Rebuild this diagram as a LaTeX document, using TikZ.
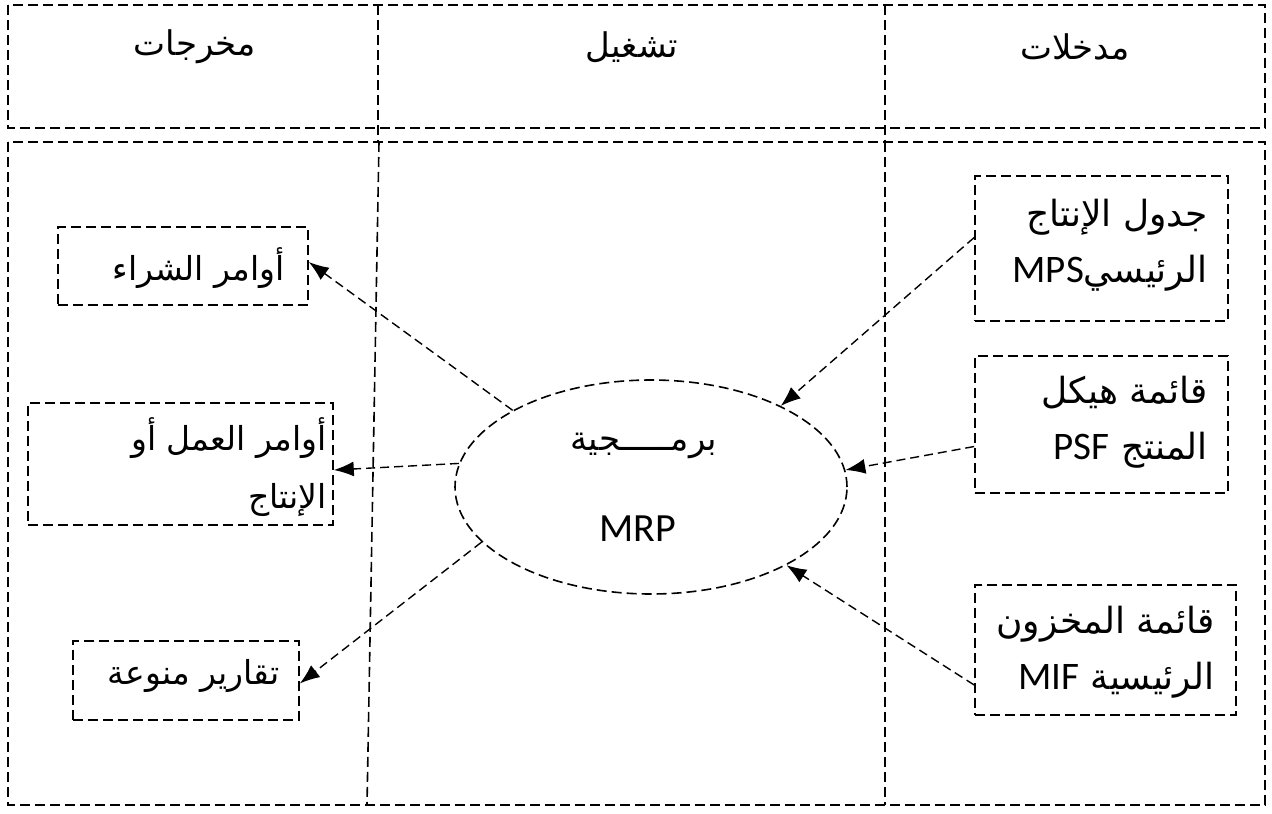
\documentclass[tikz,border=0pt]{standalone}
\usepackage{fontspec}
\usetikzlibrary{shapes.geometric,arrows.meta,calc}
\TeXXeTstate=1
\newfontfamily\ar[Script=Arabic]{DejaVu Sans}
\newfontfamily\lat{Carlito}
\tikzset{
  dsh/.style={line width=1.6pt, dash pattern=on 10pt off 5pt},
  boxnode/.style={dsh, draw, rectangle, inner sep=0pt},
  arr/.style={line width=1.4pt, dash pattern=on 9pt off 5pt,
              -{Latex[length=20pt,width=15pt]}},
  txt/.style={inner sep=0pt, align=right},
  head/.style={inner sep=0pt, font=\ar\fontsize{34}{40}\selectfont},
  boxtxt/.style={txt, font=\ar\fontsize{36}{56}\selectfont},
  sidetxt/.style={txt, font=\ar\fontsize{33}{58}\selectfont},
}
\newcommand\lt[1]{{\lat\fontsize{39}{56}\selectfont #1}}
\begin{document}
\begin{tikzpicture}[x=1pt,y=-1pt]
\useasboundingbox (0,0) rectangle (1272,814);

% lane frames
\draw[dsh] (8,5) rectangle (1265,128);
\draw[dsh] (378,5) -- (378,142);
\draw[dsh] (885,5) -- (885,142);
\draw[dsh] (8,142) rectangle (1265,805);
\draw[dsh] (379,142) -- (367,805);
\draw[dsh] (885,142) -- (885,805);

% lane headings
\node[head] (hout) at (195,47) {\beginR مخرجات\endR};
\node[head] (hproc) at (632,47) {\beginR تشغيل\endR};
\node[head] (hin) at (1075,47) {\beginR مدخلات\endR};

% input boxes
\node[boxnode, minimum width=253pt, minimum height=145pt] (mps) at (1101.5,248.5) {};
\node[boxnode, minimum width=253pt, minimum height=137pt] (psf) at (1101.5,424.5) {};
\node[boxnode, minimum width=261pt, minimum height=130pt] (mif) at (1105.5,650) {};
\node[boxtxt, anchor=east] (mpst) at (1208,245)
  {\beginR جدول الإنتاج\endR\\\beginR الرئيسي\beginL\lt{MPS}\endL\endR};
\node[boxtxt, anchor=east] (psft) at (1208,422)
  {\beginR قائمة هيكل\endR\\\beginR المنتج \beginL\lt{PSF}\endL\endR};
\node[boxtxt, anchor=east] (mift) at (1215,652)
  {\beginR قائمة المخزون\endR\\\beginR الرئيسية \beginL\lt{MIF}\endL\endR};

% output boxes
\node[boxnode, minimum width=250pt, minimum height=78pt] (buy) at (183,266) {};
\node[boxnode, minimum width=305pt, minimum height=122pt] (work) at (180.5,464) {};
\node[boxnode, minimum width=226pt, minimum height=79pt] (rep) at (186,680.5) {};
\node[sidetxt, anchor=east] (buyt) at (285,268) {\beginR أوامر الشراء\endR};
\node[sidetxt, anchor=east] (workt) at (327,467)
  {\beginR أوامر العمل أو\endR\\\beginR الإنتاج\endR};
\node[sidetxt, anchor=east] (rept) at (280,676) {\beginR تقارير منوعة\endR};

% processing ellipse
\node[dsh, draw, ellipse, minimum width=392pt, minimum height=214pt, inner sep=0pt] (mrp) at (651,487) {};
\node[inner sep=0pt, font=\ar\fontsize{34}{40}\selectfont] (mrpa) at (644,446) {\beginR برمـــــجية\endR};
\node[inner sep=0pt, font=\lat\fontsize{40}{48}\selectfont] (mrpb) at (638,529) {MRP};

% flows into the program
\draw[arr] ($(mps.west)+(0,-11)$) -- (mrp.32);
\draw[arr] ($(psf.west)+(0,22)$) -- (mrp.5);
\draw[arr] ($(mif.west)+(0,35)$) -- (mrp.-30);

% flows out of the program
\draw[arr] (mrp.151) -- ($(buy.east)+(0,-4)$);
\draw[arr] (mrp.173) -- ($(work.east)+(0,6)$);
\draw[arr] (mrp.198) -- ($(rep.east)+(0,3)$);
\end{tikzpicture}
\end{document}
